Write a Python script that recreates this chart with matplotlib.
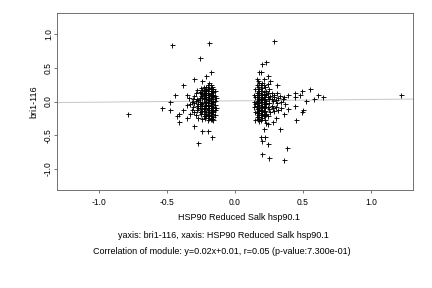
import matplotlib
matplotlib.use("Agg")
import matplotlib.pyplot as plt
import numpy as np

plt.rcParams['font.family'] = ['Liberation Sans', 'DejaVu Sans']

left_cluster = [
    (-0.17, 0.22), (-0.18, 0.18), (-0.19, 0.20), (-0.20, 0.15), (-0.21, 0.12), (-0.17, 0.10),
    (-0.18, 0.08), (-0.19, 0.05), (-0.20, 0.02), (-0.21, -0.01), (-0.17, -0.04), (-0.18, -0.07),
    (-0.19, -0.10), (-0.20, -0.13), (-0.21, -0.16), (-0.17, -0.19), (-0.18, -0.22), (-0.19, -0.25),
    (-0.20, -0.27), (-0.16, 0.14), (-0.16, 0.04), (-0.16, -0.08), (-0.16, -0.16), (-0.15, 0.01),
    (-0.15, -0.12), (-0.22, 0.19), (-0.23, 0.16), (-0.24, 0.11), (-0.22, 0.07), (-0.23, 0.03),
    (-0.24, -0.02), (-0.22, -0.05), (-0.23, -0.09), (-0.24, -0.14), (-0.22, -0.18), (-0.23, -0.22),
    (-0.24, -0.26), (-0.25, 0.08), (-0.26, 0.05), (-0.27, 0.02), (-0.25, -0.03), (-0.26, -0.06),
    (-0.27, -0.10), (-0.25, -0.18), (-0.28, 0.04), (-0.29, 0.01), (-0.30, -0.02), (-0.31, 0.03),
    (-0.32, 0.00), (-0.33, -0.03), (-0.28, -0.12), (-0.30, -0.15), (-0.32, -0.12), (-0.29, -0.20),
    (-0.27, -0.24), (-0.26, 0.14), (-0.28, 0.17), (-0.25, 0.20), (-0.20, 0.25), (-0.19, 0.28),
    (-0.21, 0.22), (-0.18, 0.13), (-0.20, 0.09), (-0.22, 0.00), (-0.18, -0.02), (-0.20, -0.05),
    (-0.19, -0.17), (-0.21, -0.21), (-0.17, -0.26), (-0.16, -0.23), (-0.18, 0.03), (-0.19, 0.11),
    (-0.17, 0.16), (-0.21, 0.06), (-0.23, 0.09), (-0.24, 0.05), (-0.22, -0.11), (-0.24, -0.07),
    (-0.25, -0.11), (-0.26, -0.15), (-0.34, 0.05), (-0.35, -0.05), (-0.33, -0.18), (-0.31, -0.08),
    (-0.30, 0.08), (-0.16, 0.19), (-0.15, 0.08), (-0.15, -0.05), (-0.16, -0.01), (-0.17, 0.06),
    (-0.18, -0.12), (-0.19, -0.06), (-0.20, -0.09), (-0.21, 0.03), (-0.22, 0.12), (-0.23, -0.14),
    (-0.18, 0.24), (-0.17, -0.14), (-0.19, -0.22), (-0.16, -0.28), (-0.21, 0.17), (-0.20, -0.20),
    (-0.23, 0.22), (-0.24, 0.17), (-0.26, 0.00), (-0.27, -0.04), (-0.28, -0.07), (-0.29, 0.12),
    (-0.25, 0.13), (-0.15, 0.16), (-0.15, -0.20), (-0.14, 0.05), (-0.14, -0.10),
    (-0.17, 0.00), (-0.19, 0.01), (-0.21, -0.07), (-0.18, -0.16), (-0.20, 0.19), (-0.22, -0.24),
    (-0.17, -0.10), (-0.19, -0.13), (-0.21, 0.09), (-0.16, 0.10), (-0.18, -0.26), (-0.20, -0.02),
]
left_outliers = [
    (-0.79, -0.19), (-0.46, 0.84), (-0.19, 0.87), (-0.26, 0.64), (-0.38, 0.25), (-0.30, 0.34),
    (-0.44, 0.09), (-0.54, -0.10), (-0.48, -0.12), (-0.43, -0.21), (-0.41, -0.19), (-0.41, -0.31),
    (-0.38, -0.12), (-0.35, -0.25), (-0.30, -0.37), (-0.27, -0.61), (-0.24, -0.43), (-0.20, -0.43),
    (-0.17, -0.53), (-0.48, 0.00), (-0.35, 0.09), (-0.24, 0.31), (-0.21, 0.38), (-0.18, 0.43),
]
right_cluster = [
    (0.16, 0.25), (0.17, 0.22), (0.18, 0.19), (0.19, 0.16), (0.16, 0.13), (0.17, 0.10), (0.18, 0.07),
    (0.19, 0.04), (0.16, 0.01), (0.17, -0.02), (0.18, -0.05), (0.19, -0.08), (0.16, -0.11),
    (0.17, -0.14), (0.18, -0.17), (0.19, -0.20), (0.16, -0.23), (0.17, -0.26), (0.18, -0.29),
    (0.20, 0.20), (0.21, 0.14), (0.22, 0.09), (0.20, 0.05), (0.21, 0.02), (0.22, -0.02),
    (0.20, -0.06), (0.21, -0.10), (0.22, -0.14), (0.20, -0.18), (0.21, -0.22), (0.22, -0.27),
    (0.15, 0.18), (0.15, 0.07), (0.15, -0.04), (0.15, -0.16), (0.15, -0.28), (0.23, 0.11),
    (0.24, 0.06), (0.25, 0.03), (0.23, -0.04), (0.24, -0.08), (0.25, -0.11), (0.23, 0.16),
    (0.24, 0.26), (0.25, 0.19), (0.26, 0.08), (0.27, 0.04), (0.28, 0.01), (0.29, 0.06),
    (0.30, 0.02), (0.31, -0.02), (0.32, 0.05), (0.33, 0.08), (0.34, 0.00), (0.35, 0.03),
    (0.36, 0.07), (0.37, -0.04), (0.27, -0.06), (0.28, -0.10), (0.29, -0.14), (0.30, -0.08),
    (0.32, -0.12), (0.34, -0.09), (0.26, -0.16), (0.27, 0.12), (0.29, 0.10), (0.31, 0.13),
    (0.16, 0.33), (0.17, 0.30), (0.18, 0.28), (0.19, 0.24), (0.16, 0.06), (0.17, 0.16),
    (0.18, 0.12), (0.19, -0.01), (0.16, -0.06), (0.17, -0.09), (0.18, -0.12), (0.19, -0.14),
    (0.16, -0.17), (0.17, -0.20), (0.18, -0.23), (0.19, -0.27), (0.20, 0.28), (0.21, 0.25),
    (0.22, 0.21), (0.20, 0.11), (0.21, 0.07), (0.22, 0.04), (0.20, -0.01), (0.21, -0.04),
    (0.22, -0.08), (0.20, -0.12), (0.21, -0.16), (0.22, -0.20), (0.20, -0.24), (0.23, 0.01),
    (0.24, 0.12), (0.25, -0.02), (0.23, -0.18), (0.24, -0.22), (0.17, 0.04), (0.18, 0.02),
    (0.19, 0.09), (0.16, -0.02), (0.14, 0.10), (0.14, -0.08), (0.14, 0.00),
]
right_outliers = [
    (0.29, 0.89), (0.23, 0.59), (0.20, 0.55), (0.18, 0.43), (0.19, 0.43), (0.24, 0.38),
    (0.21, 0.34), (0.26, 0.30), (0.31, 0.24), (0.39, 0.09), (0.44, 0.13), (0.49, 0.15),
    (0.55, 0.18), (0.61, 0.10), (0.65, 0.06), (0.58, 0.03), (0.52, 0.01), (0.48, 0.10),
    (0.44, 0.06), (1.22, 0.09), (0.21, -0.41), (0.19, -0.52), (0.22, -0.52), (0.20, -0.59),
    (0.24, -0.63), (0.20, -0.78), (0.25, -0.83), (0.36, -0.86), (0.38, -0.69), (0.33, -0.41),
    (0.45, -0.28), (0.50, -0.13), (0.49, -0.15), (0.44, -0.06), (0.36, -0.19), (0.39, -0.11),
    (0.30, -0.24), (0.28, -0.30), (0.24, -0.34), (0.23, -0.32),
]

fit_slope = 0.02
fit_intercept = 0.01
xlim = (-1.31, 1.31)
ylim = (-1.31, 1.31)
ticks = [-1.0, -0.5, 0.0, 0.5, 1.0]
tick_labels = ["-1.0", "-0.5", "0.0", "0.5", "1.0"]
xlabel = "HSP90 Reduced Salk hsp90.1"
ylabel = "bri1-116"
caption1 = "yaxis: bri1-116, xaxis: HSP90 Reduced Salk hsp90.1"
caption2 = "Correlation of module: y=0.02x+0.01, r=0.05 (p-value:7.300e-01)"

pts = np.array(left_cluster + left_outliers + right_cluster + right_outliers)

fs = 9
fig = plt.figure(figsize=(6, 4), dpi=72)
ax = fig.add_axes([57/432, 1 - 190/288, (413-57)/432, (190-13)/288])
fx = np.array(xlim)
ax.plot(fx, fit_slope * fx + fit_intercept, color='#c8c8c8', lw=1.0, zorder=1)
ax.plot(pts[:, 0], pts[:, 1], linestyle='none', marker='+', color='black',
        markersize=5, markeredgewidth=0.9, zorder=2)
ax.set_xlim(*xlim)
ax.set_ylim(*ylim)
ax.set_xticks(ticks)
ax.set_xticklabels(tick_labels)
ax.set_yticks(ticks)
ax.set_yticklabels(tick_labels, rotation=90, va='center')
ax.tick_params(direction='out', length=3, width=0.8, color='#555555', labelsize=8.5)
ax.tick_params(axis='x', pad=5)
ax.tick_params(axis='y', pad=1)
for s in ax.spines.values():
    s.set_color('#666666')
    s.set_linewidth(0.9)
ax.set_ylabel(ylabel, fontsize=fs)
ax.yaxis.set_label_coords((38 - 57) / 356, 0.5)
fig.text(239/432, 1 - 218/288, xlabel, ha='center', va='center', fontsize=fs)
fig.text(223/432, 1 - 236/288, caption1, ha='center', va='center', fontsize=fs)
fig.text(222/432, 1 - 252/288, caption2, ha='center', va='center', fontsize=fs)
fig.savefig("out.png", dpi=72)
